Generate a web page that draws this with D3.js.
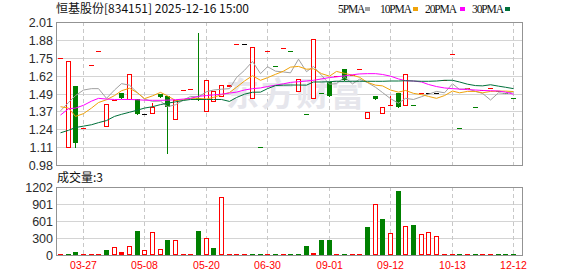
<!DOCTYPE html>
<html>
<head>
<meta charset="utf-8">
<script src="https://cdn.jsdelivr.net/npm/d3@7/dist/d3.min.js"></script>
<style>
  body { margin: 0; background: #fff; }
  svg { display: block; }
</style>
</head>
<body>
<div id="chart"></div>
<script>
// stock header
const stockName = "恒基股份"
const stockCode = "834151"
const stamp = "2025-12-16 15:00"

// trading days shown (60)
const dates = [
  "03-18","03-20","03-25","03-27","04-02","04-10","04-17","04-24","04-29","05-06",
  "05-07","05-08","05-09","05-12","05-13","05-14","05-15","05-16","05-19","05-20",
  "05-21","05-22","05-27","05-30","06-05","06-10","06-17","06-30","07-08","07-15",
  "07-24","08-05","08-12","08-19","08-26","09-01","09-02","09-04","09-05","09-08",
  "09-09","09-10","09-11","09-12","09-15","09-16","09-17","09-18","09-19","09-22",
  "09-24","10-13","10-21","10-30","11-06","11-13","11-20","11-27","12-04","12-12"
]
const tickLabels = ["03-27", "05-08", "05-20", "06-30", "09-01", "09-12", "10-13", "12-12"]

// OHLC
const open = [
  1.75,1.11,1.55,1.25,1.70,1.80,1.26,1.45,1.50,1.456,
  1.456,1.35,1.358,1.49,1.48,1.31,1.52,1.53,1.46,1.37,
  1.44,1.48,1.55,1.85,1.85,1.46,1.11,1.80,1.69,1.82,
  1.80,1.51,1.35,1.46,1.50,1.58,1.62,1.674,1.63,1.675,
  1.32,1.48,1.358,1.41,1.50,1.41,1.41,1.50,1.50,1.50,
  1.59,1.78,1.25,1.535,1.40,1.523,1.538,1.511,1.50,1.466
]
const high = [
  1.75,1.73,1.55,1.25,1.70,1.80,1.42,1.45,1.50,1.633,
  1.456,1.35,1.43,1.49,1.48,1.45,1.52,1.53,1.93,1.59,
  1.51,1.553,1.55,1.85,1.85,1.83,1.11,1.80,1.69,1.82,
  1.80,1.60,1.35,1.885,1.50,1.58,1.62,1.674,1.63,1.675,
  1.365,1.48,1.40,1.48,1.50,1.638,1.41,1.50,1.50,1.50,
  1.59,1.78,1.25,1.535,1.40,1.523,1.538,1.511,1.50,1.466
]
const low = [
  1.75,1.11,1.11,1.25,1.70,1.80,1.26,1.45,1.46,1.456,
  1.35,1.35,1.358,1.47,1.07,1.31,1.52,1.53,1.45,1.37,
  1.44,1.48,1.55,1.85,1.85,1.46,1.11,1.80,1.69,1.82,
  1.80,1.51,1.35,1.46,1.50,1.48,1.62,1.59,1.63,1.675,
  1.32,1.454,1.358,1.41,1.40,1.41,1.41,1.50,1.50,1.50,
  1.59,1.78,1.25,1.535,1.40,1.523,1.538,1.511,1.50,1.466
]
const close = [
  1.75,1.73,1.14,1.25,1.70,1.80,1.42,1.45,1.46,1.633,
  1.35,1.35,1.40,1.47,1.40,1.45,1.52,1.53,1.45,1.59,
  1.51,1.553,1.553,1.85,1.85,1.83,1.11,1.80,1.69,1.82,
  1.80,1.60,1.35,1.885,1.50,1.48,1.62,1.59,1.63,1.675,
  1.365,1.454,1.40,1.41,1.40,1.638,1.41,1.50,1.50,1.50,
  1.59,1.78,1.25,1.535,1.40,1.523,1.538,1.511,1.50,1.466
]
const prevCloseBefore = 1.70

const volume = [
  12,10,53,8,8,8,88,141,47,159,
  424,82,406,106,265,259,8,8,424,300,
  124,1025,8,8,8,8,8,8,8,8,
  8,8,165,35,265,265,8,8,8,8,
  495,896,636,383,1131,507,530,365,400,330,
  8,8,25,8,8,8,8,8,8,3
]

// moving averages
const ma5 = [
  1.37,1.43,1.48,1.52,1.53,1.53,1.46,1.52,1.566,1.555,
  1.50,1.455,1.438,1.44,1.40,1.414,1.448,1.474,1.47,1.508,
  1.52,1.526,1.53,1.61,1.662,1.726,1.638,1.688,1.656,1.65,
  1.644,1.742,1.652,1.69,1.626,1.562,1.566,1.614,1.564,1.598,
  1.574,1.54,1.502,1.458,1.425,1.46,1.452,1.472,1.49,1.51,
  1.50,1.565,1.524,1.53,1.51,1.496,1.448,1.50,1.494,1.508
]
const ma10 = [
  1.40,1.39,1.33,1.35,1.39,1.43,1.45,1.48,1.515,1.533,
  1.50,1.458,1.478,1.503,1.478,1.445,1.45,1.46,1.46,1.455,
  1.467,1.487,1.502,1.54,1.585,1.623,1.59,1.609,1.633,1.656,
  1.685,1.69,1.67,1.673,1.638,1.62,1.654,1.64,1.627,1.612,
  1.575,1.555,1.55,1.52,1.505,1.517,1.496,1.487,1.474,1.46,
  1.48,1.513,1.50,1.51,1.51,1.50,1.51,1.512,1.512,1.509
]
const ma20 = [
  1.34,1.385,1.39,1.41,1.44,1.46,1.455,1.452,1.452,1.452,
  1.45,1.447,1.446,1.446,1.447,1.45,1.455,1.46,1.475,1.48,
  1.485,1.49,1.498,1.505,1.52,1.53,1.535,1.545,1.555,1.565,
  1.575,1.58,1.585,1.59,1.60,1.61,1.615,1.622,1.63,1.636,
  1.638,1.638,1.632,1.62,1.60,1.587,1.585,1.578,1.56,1.545,
  1.535,1.53,1.527,1.523,1.52,1.517,1.515,1.513,1.505,1.49
]
const ma30 = [
  1.212,1.23,1.25,1.26,1.27,1.285,1.30,1.33,1.345,1.36,
  1.375,1.39,1.40,1.415,1.425,1.435,1.445,1.452,1.452,1.452,
  1.452,1.452,1.438,1.466,1.49,1.504,1.505,1.53,1.552,1.555,
  1.556,1.556,1.555,1.578,1.578,1.58,1.583,1.582,1.583,1.583,
  1.583,1.583,1.583,1.585,1.585,1.587,1.585,1.583,1.583,1.585,
  1.59,1.59,1.578,1.562,1.552,1.55,1.558,1.548,1.54,1.53
]

const priceTickLabels = ["0.98","1.11","1.24","1.37","1.49","1.62","1.75","1.88","2.01"]
const volTickLabels = ["0","300","601","901","1202"]

const maNames = ["5PMA", "10PMA", "20PMA", "30PMA"]
const maColors = ["#a0a0a0", "#f0a30a", "#ff00ff", "#00703a"]

const RED = "#ff0000", GREEN = "#008000"

const width = 578, height = 276
const left = 56, right = 522
const pTop = 22, pBottom = 165
const vTop = 187, vBottom = 255

const svg = d3.select("#chart").append("svg")
  .attr("width", width).attr("height", height)

const x = d3.scaleBand().domain(dates).range([left, left + dates.length * 7.68])
const cx = d => Math.round(x(d) + x.bandwidth() / 2)

const pMin = 0.98, pMax = 2.01
const y = d3.scaleLinear().domain([pMin, pMax]).range([pBottom, pTop])
const vMax = 1202
const yv = d3.scaleLinear().domain([0, vMax]).range([vBottom, vTop])

const gridColor = "#d4d4d4"
const frameColor = "#939393"
const labelFont = "'Liberation Sans', Arial, sans-serif"

// horizontal grid, price
const pStep = (pMax - pMin) / (priceTickLabels.length - 1)
priceTickLabels.forEach((lab, i) => {
  const yy = Math.round(y(pMin + i * pStep)) + 0.5
  svg.append("line").attr("x1", left).attr("x2", right).attr("y1", yy).attr("y2", yy)
    .attr("stroke", gridColor).attr("shape-rendering", "crispEdges")
  svg.append("text").attr("x", 53).attr("y", yy).attr("dy", "0.36em")
    .attr("text-anchor", "end").attr("font-family", labelFont).attr("font-size", 12.5)
    .attr("fill", "#2b2b2b").text(lab)
})

// horizontal grid, volume
const vStep = vMax / (volTickLabels.length - 1)
volTickLabels.forEach((lab, i) => {
  const yy = Math.round(yv(i * vStep)) + 0.5
  svg.append("line").attr("x1", left).attr("x2", right).attr("y1", yy).attr("y2", yy)
    .attr("stroke", gridColor).attr("shape-rendering", "crispEdges")
  svg.append("text").attr("x", 53).attr("y", yy).attr("dy", "0.36em")
    .attr("text-anchor", "end").attr("font-family", labelFont).attr("font-size", 12.5)
    .attr("fill", "#2b2b2b").text(lab)
})

// vertical dashed grid + date labels
const tickDates = dates.filter(d => tickLabels.includes(d))
tickDates.forEach(d => {
  const xx = cx(d) + 0.5
  ;[[pTop, pBottom], [vTop, vBottom]].forEach(([a, b]) => {
    svg.append("line").attr("x1", xx).attr("x2", xx).attr("y1", a).attr("y2", b)
      .attr("stroke", "#c8c8c8").attr("stroke-dasharray", "4,3")
      .attr("shape-rendering", "crispEdges")
  })
  svg.append("text").attr("x", xx).attr("y", 269).attr("text-anchor", "middle")
    .attr("font-family", labelFont).attr("font-size", 10.5).attr("fill", RED).text(d)
})

// watermark
svg.append("text").attr("x", 226).attr("y", 106)
  .attr("font-family", "'Noto Sans CJK SC', sans-serif").attr("font-weight", "bold")
  .attr("font-size", 33).attr("fill", "#e6e6ec").attr("letter-spacing", 2)
  .text("东方财富")

// candles
const prevClose = i => i === 0 ? prevCloseBefore : close[i - 1]
const candleColor = i => {
  if (close[i] > open[i]) return RED
  if (close[i] < open[i]) return GREEN
  const p = prevClose(i)
  return close[i] > p ? RED : close[i] < p ? GREEN : "#000"
}

const candles = svg.append("g").attr("shape-rendering", "crispEdges")
dates.forEach((d, i) => {
  const c = cx(d)
  const col = candleColor(i)
  const yo = Math.round(y(open[i])), yc = Math.round(y(close[i]))
  const yh = Math.round(y(high[i])), yl = Math.round(y(low[i]))
  const top = Math.min(yo, yc), bot = Math.max(yo, yc)
  if (top === bot) {
    if (yh < top || yl > top) {
      candles.append("line").attr("x1", c + 0.5).attr("x2", c + 0.5)
        .attr("y1", yh).attr("y2", yl + 1).attr("stroke", col)
    }
    candles.append("line").attr("x1", c - 2).attr("x2", c + 3)
      .attr("y1", top + 0.5).attr("y2", top + 0.5).attr("stroke", col)
    return
  }
  if (col === RED) {
    if (yh < top) candles.append("line").attr("x1", c + 0.5).attr("x2", c + 0.5)
      .attr("y1", yh).attr("y2", top).attr("stroke", col)
    if (yl > bot) candles.append("line").attr("x1", c + 0.5).attr("x2", c + 0.5)
      .attr("y1", bot + 1).attr("y2", yl + 1).attr("stroke", col)
    candles.append("rect").attr("x", c - 1.5).attr("y", top + 0.5)
      .attr("width", 4).attr("height", bot - top)
      .attr("fill", "#fff").attr("stroke", col)
  } else {
    candles.append("line").attr("x1", c + 0.5).attr("x2", c + 0.5)
      .attr("y1", yh).attr("y2", yl + 1).attr("stroke", col)
    candles.append("rect").attr("x", c - 2).attr("y", top)
      .attr("width", 5).attr("height", Math.max(1, bot - top)).attr("fill", col)
  }
})

// moving average lines
const line = d3.line().x((v, i) => cx(dates[i]) + 0.5).y(v => y(v))
;[ma5, ma10, ma20, ma30].forEach((arr, k) => {
  svg.append("path").datum(arr).attr("d", line).attr("fill", "none")
    .attr("stroke", maColors[k]).attr("stroke-width", 1)
})

// volume bars
const bars = svg.append("g").attr("shape-rendering", "crispEdges")
dates.forEach((d, i) => {
  const c = cx(d)
  const up = close[i] >= prevClose(i)
  const yt = Math.round(yv(volume[i]))
  const h = Math.max(1.5, vBottom - yt)
  if (up && h > 3) {
    bars.append("rect").attr("x", c - 1.5).attr("y", yt + 0.5)
      .attr("width", 4).attr("height", h - 1).attr("fill", "#fff").attr("stroke", RED)
  } else {
    bars.append("rect").attr("x", c - 2).attr("y", vBottom - h)
      .attr("width", 5).attr("height", h).attr("fill", up ? RED : GREEN)
  }
})

// frames
;[[pTop, pBottom], [vTop, vBottom]].forEach(([a, b]) => {
  svg.append("rect").attr("x", left + 0.5).attr("y", a + 0.5)
    .attr("width", right - left).attr("height", b - a)
    .attr("fill", "none").attr("stroke", frameColor).attr("shape-rendering", "crispEdges")
})

// title
svg.append("text").attr("x", 56).attr("y", 13)
  .attr("font-family", "'Noto Sans CJK SC', sans-serif").attr("font-size", 12)
  .attr("fill", "#111").text(`${stockName}[${stockCode}] ${stamp}`)

// legend
const legendX = [338, 380, 425, 472]
const swatchX = [365, 413, 460, 505]
maNames.forEach((n, k) => {
  svg.append("text").attr("x", legendX[k]).attr("y", 13)
    .attr("font-family", "'Liberation Serif', serif").attr("font-size", 11.5)
    .attr("letter-spacing", -1.1).attr("fill", "#111").text(n)
  svg.append("rect").attr("x", swatchX[k]).attr("y", 7).attr("width", 5).attr("height", 4)
    .attr("fill", maColors[k])
})

// volume caption
svg.append("text").attr("x", 57).attr("y", 182)
  .attr("font-family", "'Noto Sans CJK SC', sans-serif").attr("font-size", 12)
  .attr("fill", "#111").text(`成交量:${volume[volume.length - 1]}`)
</script>
</body>
</html>
